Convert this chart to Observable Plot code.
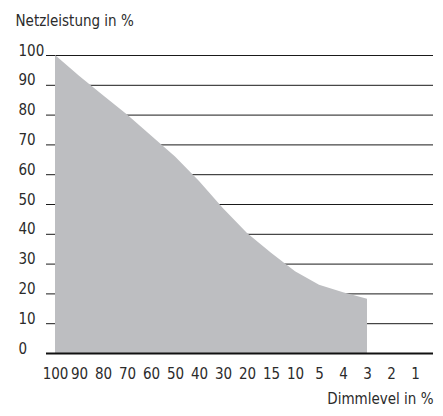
<!DOCTYPE html>
<html><head><meta charset="utf-8">
<script src="https://cdn.jsdelivr.net/npm/d3@7"></script>
<script src="https://cdn.jsdelivr.net/npm/@observablehq/plot@0.6"></script>
<style>body{margin:0;background:#fff} svg{display:block}</style>
</head><body><div id="chart"></div>
<script>
const dimLevels = ["100","90","80","70","60","50","40","30","20","15","10","5","4","3","2","1"];
const powerLevels = ["100","90","80","70","60","50","40","30","20","15","10","5","4","3"];
const powerValues = [100, 93, 86.5, 80, 73, 65.9, 57.7, 48.6, 40.3, 33.6, 27.4, 22.9, 20.4, 18.2];
const yTicks = [0, 10, 20, 30, 40, 50, 60, 70, 80, 90, 100];
const yTitle = "Netzleistung in %";
const xTitle = "Dimmlevel in %";

const data = powerLevels.map((level, i) => ({level, power: powerValues[i]}));

const chart = Plot.plot({
  width: 443, height: 416,
  marginLeft: 55, marginRight: 28, marginTop: 55, marginBottom: 63,
  style: {fontFamily: "'DejaVu Sans Condensed', 'DejaVu Sans', sans-serif", fontStretch: "condensed", fontSize: "15px", color: "#2b2b2b", background: "#fff"},
  x: {type: "point", domain: dimLevels, padding: 0, axis: null},
  y: {domain: [0, 100], axis: null},
  marks: [
    Plot.ruleY(yTicks.filter(d => d > 0), {stroke: "#1a1a1a", strokeWidth: 1, insetLeft: -9, insetRight: -18}),
    Plot.areaY(data, {x: "level", y: "power", fill: "#bdbec1"}),
    Plot.ruleY([0], {stroke: "#111", strokeWidth: 2.2, insetLeft: -9, insetRight: -18}),
    Plot.axisY(yTicks, {tickSize: 0, tickPadding: 0, textAnchor: "start", dx: -37, lineAnchor: "bottom", label: null, fill: "#2b2b2b"}),
    Plot.axisX(dimLevels, {tickSize: 0, tickPadding: 15, label: null, fill: "#2b2b2b"}),
    Plot.text([yTitle], {frameAnchor: "top-left", dx: -40, dy: -30, textAnchor: "start", lineAnchor: "bottom", fill: "#2b2b2b"}),
    Plot.text([xTitle], {frameAnchor: "bottom-right", dx: 18, dy: 50, textAnchor: "end", lineAnchor: "bottom", fill: "#2b2b2b"})
  ]
});
document.getElementById("chart").append(chart);
</script>
</body></html>
